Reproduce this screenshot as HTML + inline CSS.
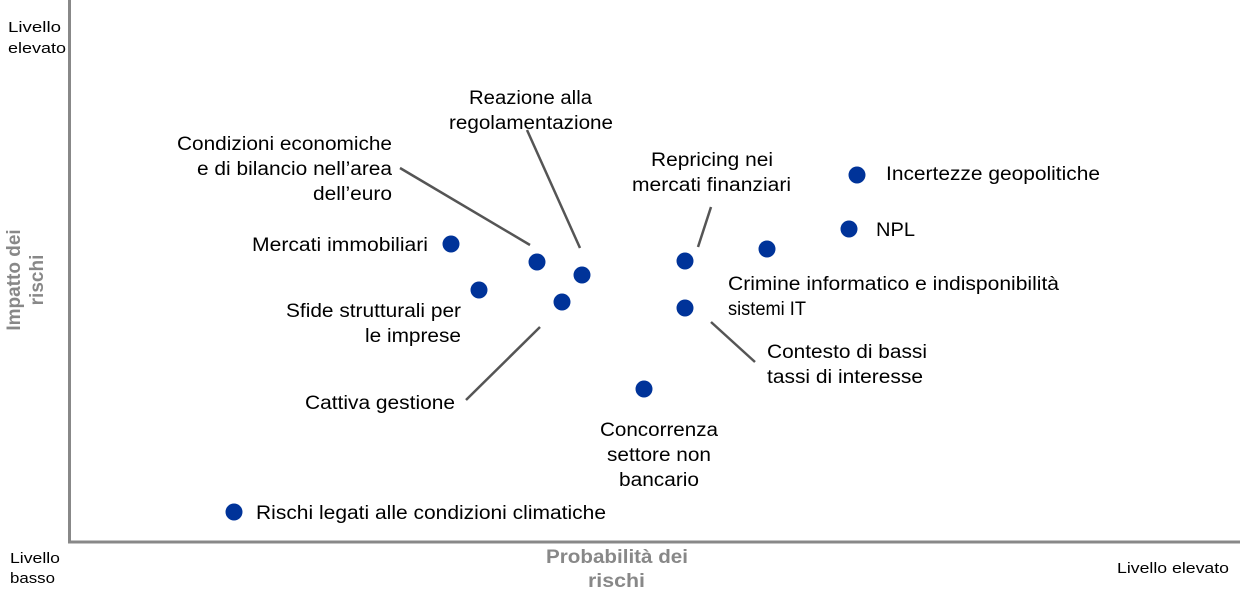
<!DOCTYPE html>
<html><head><meta charset="utf-8"><style>
html,body{margin:0;padding:0;background:#fff;}
svg{display:block;font-family:"Liberation Sans",Arial,sans-serif;}
</style></head><body>
<svg width="1240" height="591" viewBox="0 0 1240 591">
<g stroke="#888" stroke-width="3" fill="none">
<line x1="69.5" y1="0" x2="69.5" y2="542"/>
<line x1="68" y1="542" x2="1240" y2="542"/>
</g>
<g stroke="#555" stroke-width="2.5">
<line x1="400" y1="168" x2="530" y2="245"/>
<line x1="527" y1="130" x2="580" y2="248"/>
<line x1="711" y1="207" x2="698" y2="247"/>
<line x1="466" y1="400" x2="540" y2="327"/>
<line x1="711" y1="322" x2="755" y2="362"/>
</g>
<g fill="#003399">
<circle cx="451" cy="244" r="8.5"/><circle cx="537" cy="262" r="8.5"/>
<circle cx="582" cy="275" r="8.5"/><circle cx="479" cy="290" r="8.5"/>
<circle cx="562" cy="302" r="8.5"/><circle cx="685" cy="261" r="8.5"/>
<circle cx="685" cy="308" r="8.5"/><circle cx="767" cy="249" r="8.5"/>
<circle cx="849" cy="229" r="8.5"/><circle cx="857" cy="175" r="8.5"/>
<circle cx="644" cy="389" r="8.5"/><circle cx="234" cy="512" r="8.5"/>
</g>
<g font-size="15" fill="#000">
<text x="8" y="32" textLength="53" lengthAdjust="spacingAndGlyphs">Livello</text>
<text x="8" y="53" textLength="58" lengthAdjust="spacingAndGlyphs">elevato</text>
<text x="10" y="563" textLength="50" lengthAdjust="spacingAndGlyphs">Livello</text>
<text x="10" y="583" textLength="45" lengthAdjust="spacingAndGlyphs">basso</text>
<text x="1117" y="573" textLength="112" lengthAdjust="spacingAndGlyphs">Livello elevato</text>
</g>
<g font-size="19" font-weight="bold" fill="#888">
<text x="546" y="563" textLength="142" lengthAdjust="spacingAndGlyphs">Probabilità dei</text>
<text x="588" y="587" textLength="57" lengthAdjust="spacingAndGlyphs">rischi</text>
<text transform="translate(20,280) rotate(-90)" text-anchor="middle">Impatto dei</text>
<text transform="translate(43,280) rotate(-90)" text-anchor="middle">rischi</text>
</g>
<g font-size="19" fill="#000">
<text x="886" y="180" textLength="214" lengthAdjust="spacingAndGlyphs">Incertezze geopolitiche</text>
<text x="876" y="236" textLength="39" lengthAdjust="spacingAndGlyphs">NPL</text>
<text x="728" y="290" textLength="331" lengthAdjust="spacingAndGlyphs">Crimine informatico e indisponibilità</text>
<text x="728" y="315" textLength="78" lengthAdjust="spacingAndGlyphs">sistemi IT</text>
<text x="767" y="358" textLength="160" lengthAdjust="spacingAndGlyphs">Contesto di bassi</text>
<text x="767" y="383" textLength="156" lengthAdjust="spacingAndGlyphs">tassi di interesse</text>
<text x="256" y="519" textLength="350" lengthAdjust="spacingAndGlyphs">Rischi legati alle condizioni climatiche</text>
<text x="305" y="409" textLength="150" lengthAdjust="spacingAndGlyphs">Cattiva gestione</text>
<text x="177" y="150" textLength="215" lengthAdjust="spacingAndGlyphs">Condizioni economiche</text>
<text x="197" y="175" textLength="195" lengthAdjust="spacingAndGlyphs">e di bilancio nell’area</text>
<text x="313" y="200" textLength="79" lengthAdjust="spacingAndGlyphs">dell’euro</text>
<text x="252" y="251" textLength="176" lengthAdjust="spacingAndGlyphs">Mercati immobiliari</text>
<text x="286" y="317" textLength="175" lengthAdjust="spacingAndGlyphs">Sfide strutturali per</text>
<text x="365" y="342" textLength="96" lengthAdjust="spacingAndGlyphs">le imprese</text>
<text x="469" y="104" textLength="123" lengthAdjust="spacingAndGlyphs">Reazione alla</text>
<text x="449" y="129" textLength="164" lengthAdjust="spacingAndGlyphs">regolamentazione</text>
<text x="651" y="166" textLength="122" lengthAdjust="spacingAndGlyphs">Repricing nei</text>
<text x="632" y="191" textLength="159" lengthAdjust="spacingAndGlyphs">mercati finanziari</text>
<text x="600" y="436" textLength="118" lengthAdjust="spacingAndGlyphs">Concorrenza</text>
<text x="607" y="461" textLength="104" lengthAdjust="spacingAndGlyphs">settore non</text>
<text x="619" y="486" textLength="80" lengthAdjust="spacingAndGlyphs">bancario</text>
</g>
</svg>
</body></html>
